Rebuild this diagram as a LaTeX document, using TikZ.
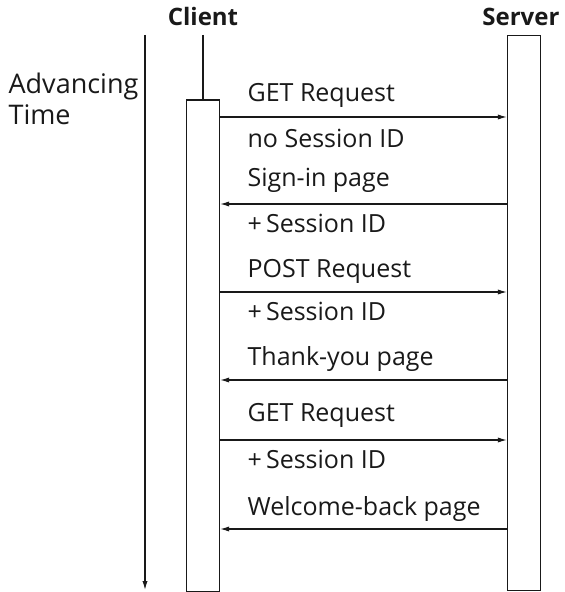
\documentclass[tikz,border=0pt]{standalone}
\usepackage{fontspec}
\setmainfont{Open Sans}
\usetikzlibrary{arrows.meta, positioning}

\begin{document}
\begin{tikzpicture}[
    x=0.5pt, y=-0.5pt,
    line width=0.6pt,
    lifebox/.style = {
        rectangle, draw=black!90, fill=white,
        minimum width=16.5pt, inner sep=0pt, anchor=north
    },
    head/.style = {font=\fontsize{12}{14}\selectfont\bfseries, inner sep=0pt, text=black!90},
    label/.style = {font=\fontsize{12.5}{14}\selectfont, anchor=base west, inner sep=0pt, text=black!90},
    msg/.style = {-{Latex[length=4.5pt, width=2.6pt]}, draw=black!90}
]
\useasboundingbox (0,0) rectangle (565,592);

% Headings
\node[head, anchor=base] (chead) at (203,26) {Client};
\node[head, anchor=base east] (shead) at (560,26) {Server};
\node[label, align=left, text width=80pt, font=\fontsize{13.5}{15.5}\selectfont] (adv) at (8,94)
    {Advancing\\Time};

% Time axis
\coordinate (ttop) at (145,35);
\coordinate (tbot) at (145,590);
\draw[msg] (ttop) -- (tbot);

% Lifelines
\coordinate (ctop) at (203,35);
\node[lifebox, minimum height=245.5pt] (client) at (203,99.5) {};
\node[lifebox, minimum height=277.5pt] (server) at (524,35) {};
\draw[black!90] (ctop) -- (client.north);

% Message levels
\coordinate (m1) at (0,117);
\coordinate (m2) at (0,204);
\coordinate (m3) at (0,292);
\coordinate (m4) at (0,380);
\coordinate (m5) at (0,440);
\coordinate (m6) at (0,529);

% Messages
\draw[msg] (client.east |- m1) -- (server.west |- m1);
\draw[msg] (server.west |- m2) -- (client.east |- m2);
\draw[msg] (client.east |- m3) -- (server.west |- m3);
\draw[msg] (server.west |- m4) -- (client.east |- m4);
\draw[msg] (client.east |- m5) -- (server.west |- m5);
\draw[msg] (server.west |- m6) -- (client.east |- m6);

% Labels
\node[label] (l1)  at (247,102) {GET Request};
\node[label] (l2)  at (247,148) {no Session ID};
\node[label] (l3)  at (247,187) {Sign-in page};
\node[label] (l4)  at (247,233) {+\,Session ID};
\node[label] (l5)  at (247,278) {POST Request};
\node[label] (l6)  at (247,320) {+\,Session ID};
\node[label] (l7)  at (247,365) {Thank-you page};
\node[label] (l8)  at (247,421) {GET Request};
\node[label] (l9)  at (247,468) {+\,Session ID};
\node[label] (l10) at (247,515) {Welcome-back page};

\end{tikzpicture}
\end{document}
